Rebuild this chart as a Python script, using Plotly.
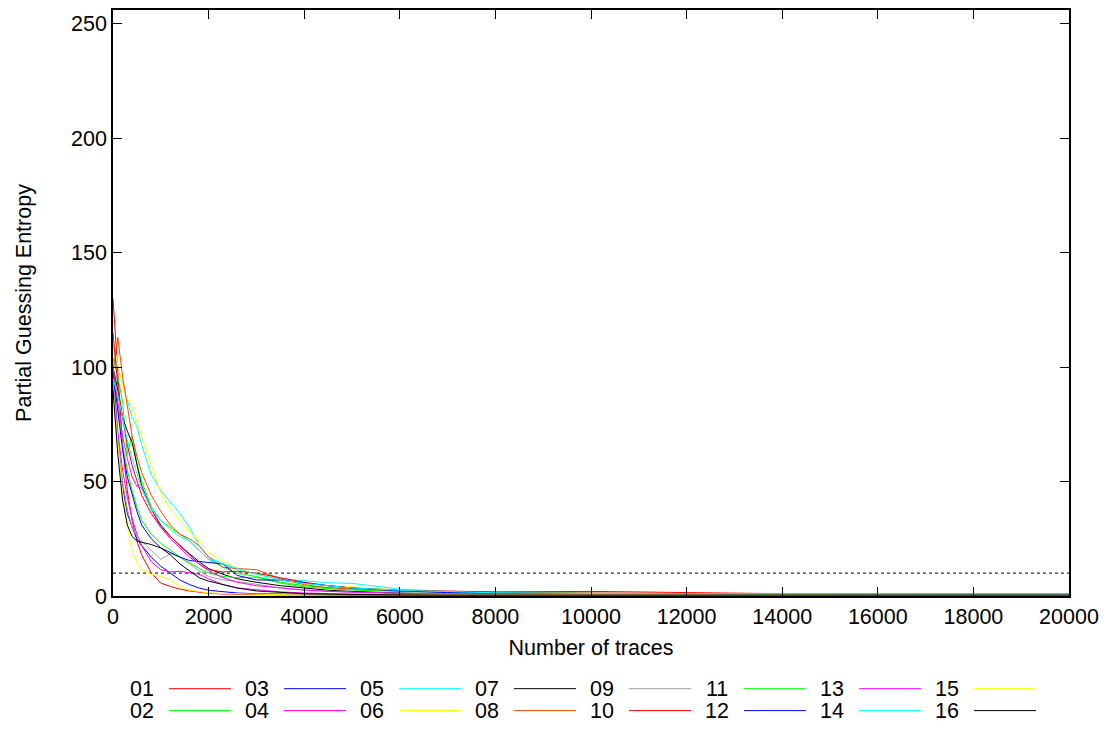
import plotly.graph_objects as go

# number of traces at which each curve was sampled
traces = [0, 100, 200, 300, 400, 500, 600, 800, 1000, 1200, 1400, 1600, 1800, 2000,
          2300, 2600, 3000, 3500, 4000, 4500, 5000, 6000, 7000, 8000, 10000,
          12000, 14000, 17000, 20000]

# partial guessing entropy per key byte
pge_01 = [130, 96, 66, 46, 33, 24, 18, 10, 5.6, 4.2, 3.0, 2.2, 1.6, 1.2, 0.9, 0.7, 0.6, 0.5, 0.4, 0.4, 0.3, 0.3, 0.3, 0.3, 0.3, 0.3, 0.3, 0.3, 0.3]
pge_02 = [104, 96, 85, 62, 70, 58, 50, 39, 33, 30, 27, 24, 20, 16, 12.6, 10, 8.5, 6, 4.5, 3.8, 3, 2.2, 1.6, 1.3, 1.0, 0.9, 0.9, 0.9, 0.9]
pge_03 = [100, 70, 48, 36, 30, 25, 22, 17, 13, 10, 7, 5, 3.5, 2.5, 1.8, 1.3, 1.0, 0.8, 0.6, 0.5, 0.4, 0.3, 0.3, 0.3, 0.3, 0.3, 0.3, 0.3, 0.3]
pge_04 = [95, 72, 55, 43, 34, 27, 22, 15, 11.5, 10.5, 10.8, 10.2, 9.5, 7.5, 5, 3.5, 2.6, 1.8, 1.3, 1.0, 0.8, 0.6, 0.5, 0.4, 0.4, 0.4, 0.4, 0.4, 0.4]
pge_05 = [110, 100, 93, 85, 78, 74, 66, 53, 46, 41, 36, 30, 22, 17, 14, 11.5, 9.5, 7.5, 6.5, 5.8, 5.5, 3, 2, 1.5, 1.2, 1.0, 0.8, 0.8, 0.8]
pge_06 = [111, 102, 92, 86, 83, 76, 70, 58, 45, 38, 33, 28, 24, 19, 15, 12, 9.5, 7, 5, 4.5, 4, 2.5, 1.8, 1.3, 1.0, 0.8, 0.7, 0.7, 0.7]
pge_07 = [100, 90, 78, 72, 67, 57, 48, 38, 31, 26, 22, 18.5, 15, 12, 9.5, 7.5, 6, 4.5, 3.5, 2.5, 2, 1.3, 1, 0.8, 0.6, 0.5, 0.5, 0.5, 0.5]
pge_08 = [98, 113, 96, 82, 70, 61, 54, 44, 37, 31, 27, 25, 22, 17, 12.5, 12, 11.5, 7.5, 5, 3.5, 3, 2.2, 1.8, 1.6, 1.3, 1.0, 0.8, 0.7, 0.7]
pge_09 = [95, 68, 50, 38, 30, 26, 24, 20, 16, 18.5, 17, 14, 11, 8.5, 7, 6.4, 5, 3.5, 2.6, 2, 1.6, 1.2, 1.0, 0.8, 0.7, 0.6, 0.6, 0.6, 0.6]
pge_10 = [115, 92, 78, 66, 57, 50, 44, 36, 30, 26, 22, 18, 14, 11.5, 10.5, 10.8, 10, 8, 6, 4.5, 3.5, 2.5, 2, 1.8, 2.0, 1.6, 1.0, 0.8, 0.8]
pge_11 = [100, 82, 66, 55, 46, 39, 33, 27, 23, 20, 17, 14.5, 12, 10, 8.5, 8, 8.2, 5.6, 4, 3.2, 2.6, 2, 1.6, 1.3, 1.1, 1.0, 1.0, 1.0, 1.0]
pge_12 = [98, 80, 64, 52, 44, 37, 31, 25, 21, 19, 17, 15.5, 15, 14.5, 14, 9, 7, 7, 5.6, 4.5, 3.5, 2.2, 1.5, 1.2, 0.9, 0.7, 0.6, 0.6, 0.6]
pge_13 = [100, 84, 70, 60, 52, 48, 47, 38, 30, 25, 21, 17, 14, 11, 8, 6, 4.5, 3.4, 2.6, 2.0, 1.6, 1.1, 0.8, 0.6, 0.5, 0.4, 0.4, 0.4, 0.4]
pge_14 = [95, 88, 78, 68, 60, 53, 47, 38, 33, 29, 26, 24, 20, 16, 14, 12, 9.5, 7, 5.5, 4.5, 3.5, 2.5, 1.8, 1.4, 1.1, 0.9, 0.8, 0.8, 0.8]
pge_15 = [90, 68, 45, 30, 20, 14.5, 11.5, 9.5, 8.5, 7, 4, 2.5, 1.8, 1.4, 1.1, 0.9, 0.7, 0.6, 0.5, 0.5, 0.4, 0.4, 0.4, 0.4, 0.4, 0.4, 0.4, 0.4, 0.4]
pge_16 = [90, 62, 42, 31, 26, 24, 23.5, 22.5, 21, 18, 14, 11, 8, 6.5, 5, 3.5, 2.2, 1.5, 1.0, 0.8, 0.6, 0.5, 0.4, 0.4, 0.4, 0.4, 0.4, 0.4, 0.4]

labels = ["01", "02", "03", "04", "05", "06", "07", "08",
          "09", "10", "11", "12", "13", "14", "15", "16"]
series = [pge_01, pge_02, pge_03, pge_04, pge_05, pge_06, pge_07, pge_08,
          pge_09, pge_10, pge_11, pge_12, pge_13, pge_14, pge_15, pge_16]

threshold_x = [0, 20000]
threshold_y = [10, 10]

colors = ["#ff0000", "#00ff00", "#0000ff", "#ff00ff", "#00ffff", "#ffff00", "#000000", "#ff4500",
          "#a0a0a0", "#ff0000", "#00ff00", "#0000ff", "#ff00ff", "#00ffff", "#ffff00", "#000000"]

FONT = "Liberation Sans, Arial, sans-serif"
FS = 21.5

# page body has an 8px margin, so the figure is a bit smaller than the window
OFF = 8
W, H = 1102, 721
L, R, T, B = 105, 41, 0, 133
PW, PH = W - L - R, H - T - B


def px(x):
    # window pixel -> paper fraction
    return (x - OFF - L) / PW


def py(y):
    return (OFF + H - B - y) / PH


fig = go.Figure()

fig.add_trace(go.Scatter(x=threshold_x, y=threshold_y, mode="lines",
                         line=dict(color="#000000", width=1, dash="dot"),
                         showlegend=False, hoverinfo="skip"))

for lab, ys, col in zip(labels, series, colors):
    fig.add_trace(go.Scatter(x=traces, y=ys, mode="lines", name=lab,
                             line=dict(color=col, width=1), showlegend=False))

# legend: label then a line sample, 8 columns x 2 rows
shapes = []
annotations = []
for i, (lab, col) in enumerate(zip(labels, colors)):
    col_i, row_i = divmod(i, 2)
    yy = py(689 + 22 * row_i)
    annotations.append(dict(x=px(142 + 115 * col_i), y=yy, xref="paper", yref="paper",
                            text=lab, showarrow=False, xanchor="center", yanchor="middle",
                            font=dict(size=FS, color="#000000", family=FONT)))
    shapes.append(dict(type="line", xref="paper", yref="paper",
                       x0=px(169 + 115 * col_i), x1=px(231 + 115 * col_i), y0=yy, y1=yy,
                       line=dict(color=col, width=1)))

axis_common = dict(showline=True, linecolor="#000000", linewidth=1.5, mirror="allticks",
                   ticks="inside", ticklen=9, tickwidth=1, tickcolor="#000000",
                   showgrid=False, zeroline=False,
                   tickfont=dict(size=FS, color="#000000", family=FONT))

fig.update_layout(
    width=W, height=H,
    margin=dict(l=L, r=R, t=T, b=B),
    plot_bgcolor="#ffffff", paper_bgcolor="#ffffff",
    font=dict(family=FONT, size=FS, color="#000000"),
    xaxis=dict(range=[0, 20000], dtick=2000, tickformat="d",
               title=dict(text="Number of traces", standoff=12, font=dict(size=FS)),
               **axis_common),
    yaxis=dict(range=[0, 256], dtick=50,
               title=dict(text="Partial Guessing Entropy", standoff=34, font=dict(size=FS)),
               **axis_common),
    shapes=shapes,
    annotations=annotations,
    showlegend=False,
)

fig.write_html("out.html")
